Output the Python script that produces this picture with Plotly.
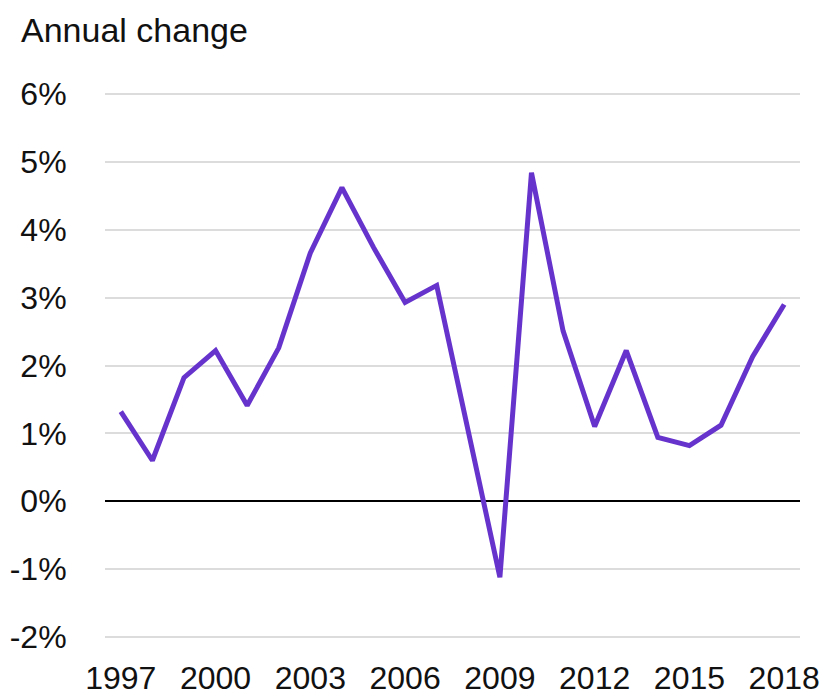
import plotly.graph_objects as go

years = list(range(1997, 2019))
values = [1.32, 0.60, 1.82, 2.22, 1.41, 2.26, 3.66, 4.62, 3.74, 2.93, 3.18,
          1.03, -1.12, 4.84, 2.51, 1.10, 2.22, 0.94, 0.82, 1.12, 2.13, 2.90]
y_ticks = [-2, -1, 0, 1, 2, 3, 4, 5, 6]
y_tick_labels = ["-2%", "-1%", "0%", "1%", "2%", "3%", "4%", "5%", "6%"]
x_ticks = [1997, 2000, 2003, 2006, 2009, 2012, 2015, 2018]
title_text = "Annual change"

FONT = "Liberation Sans, Arial, sans-serif"

W, H = 829, 695
L, R, T, B = 97, 37, 84, 64
PW, PH = W - L - R, H - T - B

fig = go.Figure()
fig.add_trace(go.Scatter(x=years, y=values, mode="lines",
                         line=dict(color="#6633cc", width=5),
                         hoverinfo="skip", showlegend=False))

fig.add_annotation(text=title_text, xref="paper", yref="paper",
                   x=(12 - L) / PW, xanchor="left",
                   y=1 + (T - 2) / PH, yanchor="top",
                   showarrow=False, borderpad=0,
                   font=dict(family=FONT, size=34, color="#111111"))

# page body has an 8px default margin; margins compensate for it
fig.update_layout(
    width=W, height=H,
    margin=dict(l=L, r=R, t=T, b=B),
    paper_bgcolor="white", plot_bgcolor="white",
    font=dict(family=FONT, size=32, color="#111111"),
    xaxis=dict(range=[1996.5, 2018.5], tickmode="array", tickvals=x_ticks,
               showgrid=False, zeroline=False, showline=False, automargin=False,
               ticks="outside", ticklen=11, tickcolor="rgba(0,0,0,0)"),
    yaxis=dict(range=[-2.03, 6.03], tickmode="array", tickvals=y_ticks, ticktext=y_tick_labels,
               showgrid=True, gridcolor="#dcdcdc", gridwidth=2, automargin=False,
               zeroline=True, zerolinecolor="#000000", zerolinewidth=1.5,
               showline=False, ticks="outside", ticklen=31, tickcolor="rgba(0,0,0,0)"),
)

fig.write_html("out.html")
